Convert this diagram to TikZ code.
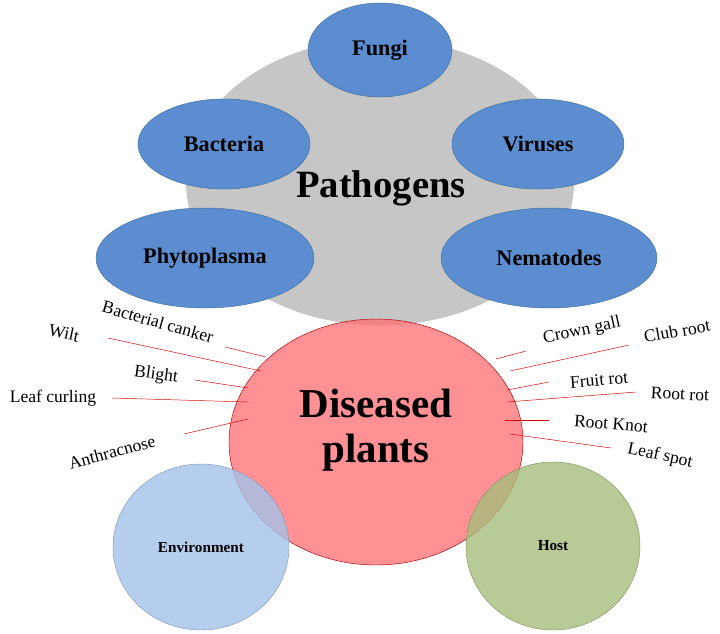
\documentclass[tikz,border=0pt]{standalone}
\usepackage{fontspec}
\setmainfont{Liberation Serif}
\usetikzlibrary{shapes.geometric}
\definecolor{pathblue}{HTML}{5B8DD0}
\definecolor{pathedge}{HTML}{41719C}
\definecolor{diseasered}{HTML}{FF6B70}
\definecolor{envblue}{HTML}{A4C2E8}
\definecolor{hostgreen}{HTML}{A6BD7C}
\tikzset{
  pathogen/.style={ellipse,fill=pathblue,draw=pathedge,thin,inner sep=0pt,
    font=\fontsize{19}{19}\selectfont\bfseries},
  symptom/.style={font=\fontsize{15}{15}\selectfont,inner sep=1pt},
  lead/.style={red!85!black,thin}
}
\begin{document}
\begin{tikzpicture}[x=0.03cm,y=-0.03cm]
  \useasboundingbox (0,0) rectangle (720,633);
  % pathogen cloud
  \node[ellipse,fill=gray!45,minimum width=11.64cm,minimum height=8.6cm] (cloud) at (380,182) {};
  \node[pathogen,minimum width=4.32cm,minimum height=2.82cm] (fungi) at (380,50) {Fungi};
  \node[pathogen,minimum width=5.16cm,minimum height=2.7cm] (bact) at (224,144) {Bacteria};
  \node[pathogen,minimum width=5.16cm,minimum height=2.7cm] (vir) at (538,144) {Viruses};
  \node[pathogen,minimum width=6.54cm,minimum height=3.0cm] (phyto) at (205,258) {Phytoplasma};
  \node[pathogen,minimum width=6.48cm,minimum height=3.0cm] (nema) at (549,258) {Nematodes};
  \node[font=\fontsize{33}{33}\selectfont\bfseries] (patho) at (381,188) {Pathogens};
  % diseased plants
  \node[ellipse,fill=diseasered,fill opacity=0.75,draw=red!70!black,thin,
    minimum width=8.82cm,minimum height=7.38cm] (plants) at (376,442) {};
  \node[font=\fontsize{35}{38}\selectfont\bfseries,align=center] (dis) at (376,430) {Diseased\\plants};
  % environment and host
  \node[ellipse,fill=envblue,fill opacity=0.8,draw=envblue!80!black,thin,
    minimum width=5.28cm,minimum height=4.98cm] (env) at (201,547) {};
  \node[font=\fontsize{13}{13}\selectfont\bfseries] at (env) {Environment};
  \node[ellipse,fill=hostgreen,fill opacity=0.8,draw=hostgreen!80!black,thin,
    minimum width=5.22cm,minimum height=5.04cm] (host) at (553,546) {};
  \node[font=\fontsize{13}{13}\selectfont\bfseries] at (host) {Host};
  % symptoms, left
  \node[symptom,rotate=-16] (canker) at (158,322) {Bacterial canker};
  \node[symptom,rotate=-12] (wilt) at (64,333) {Wilt};
  \node[symptom,rotate=-8] (blight) at (156,375) {Blight};
  \node[symptom] (curl) at (53,398) {Leaf curling};
  \node[symptom,rotate=15] (anthr) at (112,452) {Anthracnose};
  \coordinate (c1) at (225,347); \coordinate (e1) at (266,357);
  \coordinate (c2) at (108,338); \coordinate (e2) at (261,371);
  \coordinate (c3) at (195,380); \coordinate (e3) at (248,388);
  \coordinate (c4) at (112,398); \coordinate (e4) at (248,402);
  \coordinate (c5) at (184,434); \coordinate (e5) at (248,419);
  % symptoms, right
  \node[symptom,rotate=12] (gall) at (582,331) {Crown gall};
  \node[symptom,rotate=10] (club) at (677,331) {Club root};
  \node[symptom,rotate=5] (fruit) at (599,380) {Fruit rot};
  \node[symptom,rotate=-3] (rootrot) at (680,394) {Root rot};
  \node[symptom,rotate=-5] (knot) at (611,424) {Root Knot};
  \node[symptom,rotate=-12] (spot) at (660,456) {Leaf spot};
  \coordinate (c6) at (526,351); \coordinate (e6) at (496,359);
  \coordinate (c7) at (629,345); \coordinate (e7) at (510,371);
  \coordinate (c8) at (549,382); \coordinate (e8) at (507,390);
  \coordinate (c9) at (636,392); \coordinate (e9) at (507,402);
  \coordinate (c10) at (549,420); \coordinate (e10) at (505,420);
  \coordinate (c11) at (611,448); \coordinate (e11) at (510,434);
  \foreach \i in {1,...,11}
    \draw[lead] (c\i) -- (e\i);
\end{tikzpicture}
\end{document}
